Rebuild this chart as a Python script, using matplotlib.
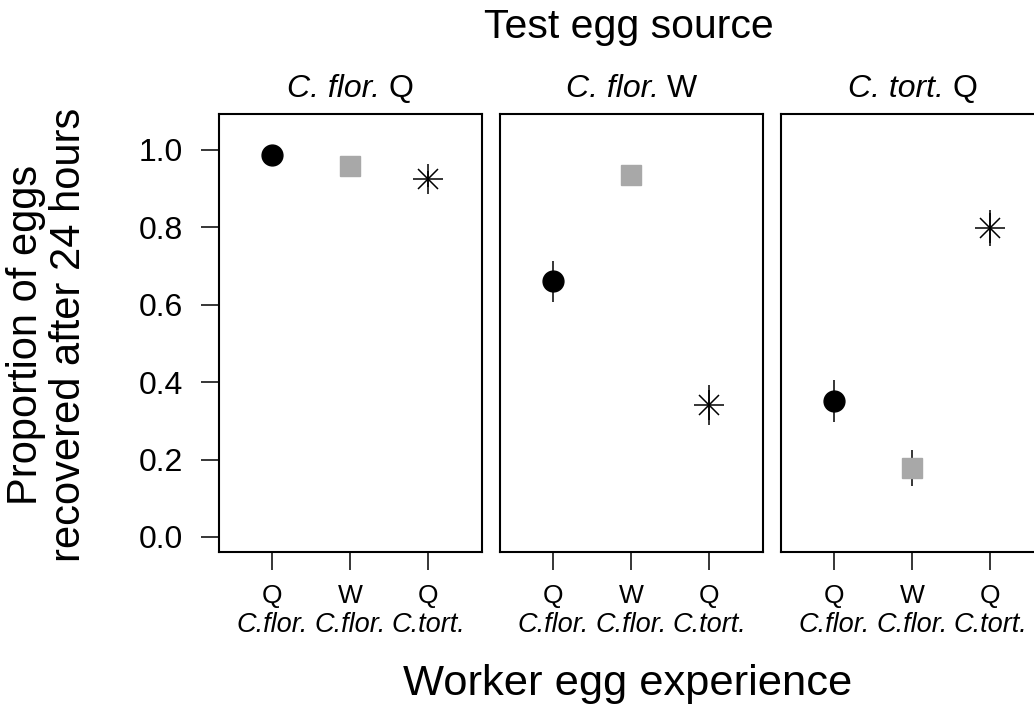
import numpy as np
import matplotlib.pyplot as plt
from matplotlib.offsetbox import TextArea, HPacker, AnnotationBbox

plt.rcParams['font.family'] = 'Liberation Sans'

# panels: test egg source (italic species + caste)
panel_species = ['C. flor.', 'C. flor.', 'C. tort.']
panel_caste = ['Q', 'W', 'Q']
# x groups: worker egg experience
caste = ['Q', 'W', 'Q']
species = ['C.flor.', 'C.flor.', 'C.tort.']

# mean proportion recovered, rows = panels, cols = experience groups
means = np.array([[0.987, 0.959, 0.925],
                  [0.661, 0.935, 0.341],
                  [0.352, 0.178, 0.799]])
errs = np.array([[0.010, 0.015, 0.020],
                 [0.053, 0.025, 0.052],
                 [0.054, 0.046, 0.046]])

fig = plt.figure(figsize=(10.34, 7.13), dpi=100)

lefts = [0.2118, 0.4836, 0.7553]
x = np.arange(1, 4)
for i, left in enumerate(lefts):
    ax = fig.add_axes([left, 0.2258, 0.2544, 0.6143])
    for s in ax.spines.values():
        s.set_linewidth(1.5)
    ax.set_xlim(0.32, 3.69)
    ax.set_ylim(-0.039, 1.093)

    ax.errorbar(x, means[i], yerr=errs[i], fmt='none', ecolor='black',
                elinewidth=1.1, capsize=0, zorder=1)
    ax.plot(x[0], means[i, 0], 'o', color='black', ms=15, zorder=3)
    ax.plot(x[1], means[i, 1], 's', color='#a8a8a8', ms=14.4, zorder=3)
    ax.plot(x[2], means[i, 2], '+', color='black', ms=21, mew=1.1, zorder=3)
    ax.plot(x[2], means[i, 2], 'x', color='black', ms=14.5, mew=1.1, zorder=3)

    ax.set_xticks(x)
    ax.set_xticklabels(caste, fontsize=19)
    ax.tick_params(axis='x', length=13, width=1.1, pad=10, direction='out')
    for xi, sp in zip(x, species):
        ax.text(xi, -0.167, sp, transform=ax.get_xaxis_transform(),
                ha='center', va='center', fontsize=19.5, style='italic')

    if i == 0:
        ax.set_yticks(np.arange(0, 1.01, 0.2))
        ax.set_yticklabels(['%.1f' % v for v in np.arange(0, 1.01, 0.2)], fontsize=23)
        ax.tick_params(axis='y', length=13, width=1.1, pad=13, direction='out')
    else:
        ax.set_yticks([])

    # panel title: italic species name followed by caste
    title = HPacker(children=[
        TextArea(panel_species[i], textprops=dict(fontsize=23, style='italic')),
        TextArea(panel_caste[i], textprops=dict(fontsize=23))],
        align='baseline', pad=0, sep=6)
    ab = AnnotationBbox(title, (0.5, 1.058), xycoords='axes fraction',
                        box_alignment=(0.5, 0.5), frameon=False)
    ax.add_artist(ab)

fig.text(0.608, 0.9467, 'Test egg source', ha='center', va='baseline', fontsize=29.5)
fig.text(0.607, 0.0252, 'Worker egg experience', ha='center', va='baseline', fontsize=31.3)
fig.text(0.046, 0.53, 'Proportion of eggs\nrecovered after 24 hours', rotation=90,
         ha='center', va='center', fontsize=30, linespacing=1.12)

fig.savefig('out.png', dpi=100)
